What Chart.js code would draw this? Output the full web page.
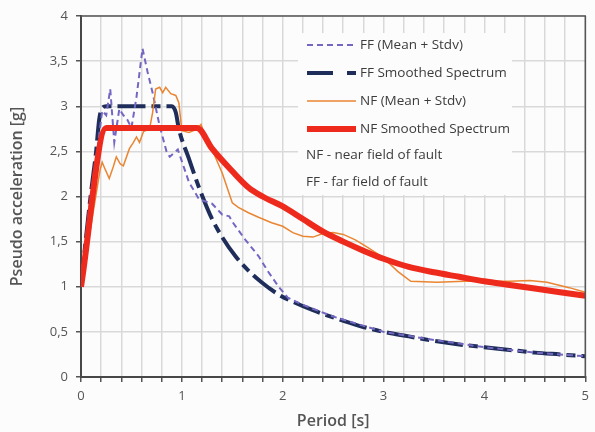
<!DOCTYPE html>
<html>
<head>
<meta charset="utf-8">
<script src="https://cdn.jsdelivr.net/npm/chart.js@4.4.1/dist/chart.umd.min.js"></script>
<style>
  html, body { margin: 0; padding: 0; background: #fcfcfc; }
  #wrap { width: 595px; height: 432px; position: relative; }
</style>
</head>
<body>
<div id="wrap"><canvas id="spectrum"></canvas></div>
<script>
// far field, mean + stdv
const ffMeanT  = [0, 0.05, 0.1, 0.16, 0.21, 0.25, 0.29, 0.33, 0.38, 0.42, 0.46, 0.5, 0.55, 0.61, 0.66, 0.71, 0.78, 0.85, 0.88, 0.96, 1.07, 1.17, 1.3, 1.4, 1.47, 1.5, 1.63, 1.76, 1.86, 1.96, 2.05, 2.2, 2.5, 3.0, 3.5, 4.0, 4.5, 5.0];
const ffMeanSa = [1.0, 1.55, 2.05, 2.5, 2.95, 2.9, 3.19, 2.6, 2.97, 2.9, 2.85, 2.76, 3.1, 3.64, 3.38, 3.15, 2.78, 2.49, 2.44, 2.52, 2.16, 1.97, 1.92, 1.8, 1.78, 1.72, 1.52, 1.34, 1.16, 1.0, 0.88, 0.8, 0.67, 0.5, 0.41, 0.33, 0.27, 0.23];

// far field, smoothed
const ffSmoothT  = [0, 0.05, 0.1, 0.15, 0.18, 0.21, 0.25, 0.9, 0.94, 0.97, 1.07, 1.17, 1.3, 1.4, 1.53, 1.65, 1.79, 1.95, 2.09, 2.3, 2.5, 2.75, 3.0, 3.25, 3.5, 3.75, 4.0, 4.25, 4.5, 4.75, 5.0];
const ffSmoothSa = [1.0, 1.55, 2.05, 2.5, 2.85, 2.98, 3.0, 3.0, 2.93, 2.75, 2.42, 2.1, 1.75, 1.55, 1.34, 1.19, 1.05, 0.92, 0.84, 0.74, 0.66, 0.57, 0.5, 0.45, 0.4, 0.36, 0.33, 0.3, 0.27, 0.25, 0.23];

// near field, mean + stdv
const nfMeanT  = [0, 0.19, 0.21, 0.24, 0.28, 0.32, 0.35, 0.39, 0.42, 0.48, 0.52, 0.55, 0.58, 0.62, 0.68, 0.71, 0.74, 0.78, 0.81, 0.84, 0.89, 0.94, 0.97, 1.0, 1.07, 1.14, 1.19, 1.24, 1.3, 1.4, 1.5, 1.56, 1.66, 1.76, 1.89, 2.0, 2.1, 2.2, 2.3, 2.4, 2.5, 2.6, 2.72, 2.85, 3.0, 3.14, 3.27, 3.53, 3.8, 4.0, 4.25, 4.45, 4.62, 4.84, 5.0];
const nfMeanSa = [1.0, 2.3, 2.38, 2.3, 2.2, 2.33, 2.44, 2.36, 2.34, 2.53, 2.6, 2.66, 2.6, 2.72, 2.75, 2.93, 3.19, 3.21, 3.15, 3.21, 3.14, 3.12, 3.04, 2.73, 2.71, 2.74, 2.8, 2.64, 2.52, 2.26, 1.93, 1.88, 1.82, 1.77, 1.71, 1.67, 1.6, 1.56, 1.55, 1.59, 1.6, 1.58, 1.52, 1.43, 1.32, 1.17, 1.06, 1.05, 1.06, 1.06, 1.06, 1.07, 1.05, 0.99, 0.94];

// near field, smoothed
const nfSmoothT  = [0, 0.25, 1.15, 1.3, 1.5, 1.66, 1.8, 2.0, 2.2, 2.4, 2.6, 2.8, 3.0, 3.25, 3.5, 3.75, 4.0, 4.25, 4.5, 4.75, 5.0];
const nfSmoothSa = [1.0, 2.76, 2.76, 2.53, 2.28, 2.1, 2.0, 1.89, 1.75, 1.61, 1.5, 1.4, 1.31, 1.22, 1.16, 1.11, 1.06, 1.02, 0.98, 0.94, 0.9];

const seriesLabels = ['FF (Mean + Stdv)', 'FF Smoothed Spectrum', 'NF (Mean + Stdv)', 'NF Smoothed Spectrum'];
const noteLines = ['NF - near field of fault', 'FF - far field of fault'];
const xTitle = 'Period [s]';
const yTitle = 'Pseudo acceleration [g]';

const toPoints = (t, sa) => t.map((x, i) => ({ x: x, y: sa[i] }));

Chart.defaults.font.family = "'Open Sans', 'Noto Sans', sans-serif";
Chart.defaults.color = '#555';

// top and right edges of the plot frame
const frame = {
  id: 'frame',
  afterDraw(chart) {
    const { ctx, chartArea: a } = chart;
    ctx.save();
    ctx.strokeStyle = '#555';
    ctx.lineWidth = 1.5;
    ctx.beginPath();
    ctx.moveTo(a.left, a.top);
    ctx.lineTo(a.right, a.top);
    ctx.lineTo(a.right, a.bottom);
    ctx.stroke();
    ctx.restore();
  }
};

// legend box inside the plot, plus the two abbreviation notes
const innerLegend = {
  id: 'innerLegend',
  afterDraw(chart) {
    const ctx = chart.ctx;
    const rows = [45, 73, 101, 129, 155, 182];
    ctx.save();
    ctx.fillStyle = '#fcfcfc';
    ctx.fillRect(298, 33, 214, 162);
    ctx.font = "13.5px 'Open Sans', sans-serif";
    ctx.textBaseline = 'middle';
    ctx.textAlign = 'left';
    seriesLabels.forEach((label, i) => {
      const ds = chart.data.datasets[i];
      ctx.strokeStyle = ds.borderColor;
      ctx.lineWidth = ds.borderWidth;
      ctx.setLineDash(ds.legendDash || ds.borderDash || []);
      ctx.beginPath();
      ctx.moveTo(307, rows[i]);
      ctx.lineTo(356, rows[i]);
      ctx.stroke();
      ctx.setLineDash([]);
      ctx.fillStyle = '#3c3c3c';
      ctx.fillText(label, 360, rows[i]);
    });
    noteLines.forEach((txt, j) => {
      ctx.fillStyle = '#3c3c3c';
      ctx.fillText(txt, 306, rows[4 + j]);
    });
    ctx.restore();
  }
};

new Chart(document.getElementById('spectrum'), {
  type: 'line',
  data: {
    datasets: [
      {
        label: seriesLabels[0],
        data: toPoints(ffMeanT, ffMeanSa),
        borderColor: '#7467c2',
        borderWidth: 2,
        borderDash: [6, 4],
        pointRadius: 0,
        tension: 0,
        order: 2
      },
      {
        label: seriesLabels[1],
        data: toPoints(ffSmoothT, ffSmoothSa),
        borderColor: '#1f2d5a',
        borderWidth: 4,
        borderDash: [28, 6, 9, 6],
        legendDash: [26, 14, 9, 40],
        pointRadius: 0,
        cubicInterpolationMode: 'monotone',
        order: 3
      },
      {
        label: seriesLabels[2],
        data: toPoints(nfMeanT, nfMeanSa),
        borderColor: '#ea8532',
        borderWidth: 1.5,
        pointRadius: 0,
        tension: 0,
        order: 1
      },
      {
        label: seriesLabels[3],
        data: toPoints(nfSmoothT, nfSmoothSa),
        borderColor: '#ee2a1d',
        borderWidth: 6,
        pointRadius: 0,
        cubicInterpolationMode: 'monotone',
        order: 0
      }
    ]
  },
  options: {
    responsive: true,
    maintainAspectRatio: false,
    animation: false,
    layout: { padding: { left: 0, right: 5, top: 16, bottom: 0 } },
    plugins: {
      legend: { display: false },
      tooltip: { enabled: false }
    },
    scales: {
      x: {
        type: 'linear',
        min: 0,
        max: 5,
        afterFit(scale) { scale.height = 55; },
        border: { color: '#474747', width: 2 },
        grid: { color: '#d9d9d9', lineWidth: 1.5, tickColor: '#555', tickLength: 5, tickWidth: 1.5 },
        ticks: {
          stepSize: 0.2,
          autoSkip: false,
          maxRotation: 0,
          padding: 6,
          font: { size: 13 },
          color: '#555',
          callback: v => {
            const r = Math.round(v * 10) / 10;
            return r % 1 === 0 ? String(r) : '';
          }
        },
        title: {
          display: true,
          text: xTitle,
          color: '#555',
          font: { size: 16, weight: '600' },
          padding: { top: 0, bottom: 1 }
        }
      },
      y: {
        min: 0,
        max: 4,
        afterFit(scale) { scale.width = 81; },
        border: { color: '#474747', width: 2 },
        grid: { color: '#d9d9d9', lineWidth: 1.5, tickColor: '#555', tickLength: 5, tickWidth: 1.5 },
        ticks: {
          stepSize: 0.5,
          padding: 8,
          font: { size: 13 },
          color: '#555',
          callback: v => String(v).replace('.', ',')
        },
        title: {
          display: true,
          text: yTitle,
          color: '#555',
          font: { size: 16, weight: '600' },
          padding: { top: 8, bottom: 0 }
        }
      }
    }
  },
  plugins: [frame, innerLegend]
});
</script>
</body>
</html>
